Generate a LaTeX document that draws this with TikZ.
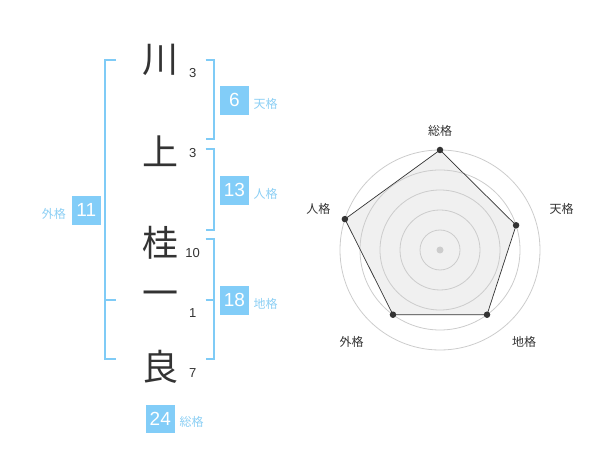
\documentclass[tikz,border=0pt]{standalone}
\usepackage{fontspec}
\setmainfont{Liberation Sans}
\newfontfamily\cjk{Noto Sans CJK JP}
\usetikzlibrary{calc}
\definecolor{brk}{HTML}{7FCBF6}
\definecolor{boxc}{HTML}{82CDF8}
\definecolor{lbl}{HTML}{8CCFF4}
\definecolor{ink}{HTML}{333333}
\definecolor{ring}{HTML}{CCCCCC}
\definecolor{area}{HTML}{F0F0F0}
\tikzset{
  kanji/.style={font=\cjk\fontsize{36}{36}\selectfont, text=ink, inner sep=0pt},
  stroke/.style={font=\fontsize{13}{13}\selectfont, text=ink, inner sep=0pt},
  numbox/.style={fill=boxc, text=white, minimum width=28.5pt, minimum height=28.5pt, inner sep=0pt, font=\fontsize{19}{19}\selectfont},
  kaku/.style={font=\cjk\fontsize{12}{12}\selectfont, text=lbl, inner sep=0pt},
  brack/.style={draw=brk, line width=2pt},
  axlbl/.style={font=\cjk\fontsize{12}{12}\selectfont, text=ink, inner sep=0pt},
  ringc/.style={draw=ring, line width=0.8pt},
  dot/.style={circle, fill=ink, minimum size=6.5pt, inner sep=0pt},
}
\begin{document}
\begin{tikzpicture}[x=1pt,y=-1pt]
\useasboundingbox (0,0) rectangle (600,470);
% kanji
\node[kanji] (k1) at (160,60) {川};
\node[kanji] (k2) at (160,151.5) {上};
\node[kanji] (k3) at (160,243) {桂};
\node[kanji] (k4) at (160,299) {一};
\node[kanji] (k5) at (160,366.5) {良};
% stroke counts
\node[stroke] (s1) at (192.7,72.7) {3};
\node[stroke] (s2) at (192.7,153.3) {3};
\node[stroke] (s3) at (192.7,252.7) {10};
\node[stroke] (s4) at (192.7,313.3) {1};
\node[stroke] (s5) at (192.7,372.7) {7};
% brackets
\draw[brack] (116,60) -- (105,60) -- (105,359.3) -- (116,359.3);
\draw[brack] (105,300) -- (116,300);
\draw[brack] (205.7,60) -- (214.3,60) -- (214.3,139.3) -- (205.7,139.3);
\draw[brack] (205.7,149.3) -- (214.3,149.3) -- (214.3,230) -- (205.7,230);
\draw[brack] (205.7,239.3) -- (214.3,239.3) -- (214.3,359.3) -- (205.7,359.3);
\draw[brack] (205.7,300) -- (214.3,300);
% boxes
\node[numbox] (ten) at (234.5,100.3) {6};
\node[kaku, anchor=west] (tenl) at (253.5,104) {天格};
\node[numbox] (jin) at (234.5,190.3) {13};
\node[kaku, anchor=west] (jinl) at (253.5,194) {人格};
\node[numbox] (chi) at (234.5,300.3) {18};
\node[kaku, anchor=west] (chil) at (253.5,304) {地格};
\node[numbox] (gai) at (86.3,210.3) {11};
\node[kaku, anchor=east] (gail) at (66,214) {外格};
\node[numbox] (so) at (160.3,419.2) {24};
\node[kaku, anchor=west] (sol) at (179.5,422.3) {総格};
% radar
\coordinate (c) at (440,250);
\coordinate (p1) at ($(c)+(0,-100)$);
\coordinate (p2) at ($(c)+({80*cos(18)},{-80*sin(18)})$);
\coordinate (p3) at ($(c)+({80*cos(54)},{80*sin(54)})$);
\coordinate (p4) at ($(c)+({-80*cos(54)},{80*sin(54)})$);
\coordinate (p5) at ($(c)+({-100*cos(18)},{-100*sin(18)})$);
\fill[area] (p1) -- (p2) -- (p3) -- (p4) -- (p5) -- cycle;
\foreach \r in {20,40,60,80,100} \draw[ringc] (c) circle[radius=\r];
\fill[ring] (c) circle[radius=3.5pt];
\draw[draw=ink, line width=0.7pt, line join=round] (p1) -- (p2) -- (p3) -- (p4) -- (p5) -- cycle;
\foreach \p in {p1,p2,p3,p4,p5} \node[dot] at (\p) {};
\node[axlbl] (a1) at (440,130.7) {総格};
\node[axlbl] (a2) at (561.7,209) {天格};
\node[axlbl] (a3) at (524,341.7) {地格};
\node[axlbl] (a4) at (351.7,341.7) {外格};
\node[axlbl] (a5) at (318.3,209) {人格};
\end{tikzpicture}
\end{document}
